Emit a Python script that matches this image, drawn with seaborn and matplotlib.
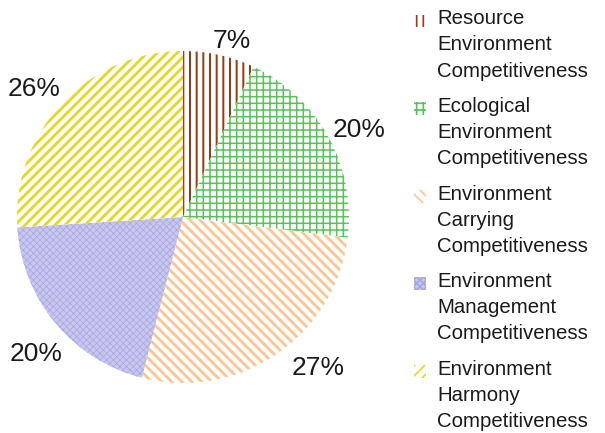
import matplotlib
matplotlib.use("Agg")
import numpy as np
import matplotlib.pyplot as plt
import matplotlib.patches as mpatches
from matplotlib.legend_handler import HandlerPatch
import seaborn as sns

# data
categories = ["Resource\nEnvironment\nCompetitiveness",
              "Ecological\nEnvironment\nCompetitiveness",
              "Environment\nCarrying\nCompetitiveness",
              "Environment\nManagement\nCompetitiveness",
              "Environment\nHarmony\nCompetitiveness"]
shares = [7, 20, 27, 20, 26]

# styling per wedge
hatch_colors = ["#9c3a12", "#55c455", "#fdc690", "#a6a6de", "#e6d81e"]
face_colors = ["white", "white", "white", "#c6c6ef", "white"]
hatches = ["|||", "+++", "\\\\\\\\", "xxxxxx", "////"]
hatch_widths = [1.2, 0.9, 1.7, 0.4, 1.7]
# where the percentage labels sit (radius, angular nudge in degrees)
label_radius = [1.10, 1.18, 1.22, 1.21, 1.18]
label_nudge = [-3, -2.5, 7.5, 3.5, 2.5]

sns.set_theme(style="white")
plt.rcParams["font.family"] = ["Liberation Sans", "DejaVu Sans"]


class TopAlignedHandler(HandlerPatch):
    # put the small swatch next to the first line of a multi-line label
    def create_artists(self, legend, orig_handle, xdescent, ydescent,
                       width, height, fontsize, trans):
        p = mpatches.Rectangle((-xdescent, -ydescent + 1.19 * fontsize),
                               width, height)
        self.update_prop(p, orig_handle, legend)
        p.set_transform(trans)
        return [p]


DPI = 120
fig = plt.figure(figsize=(605 / DPI, 433 / DPI), dpi=DPI)
ax = fig.add_axes([0.0281, 0.1155, 0.5488, 0.7667])

wedges, _ = ax.pie(
    shares,
    startangle=90,
    counterclock=False,
    colors=face_colors,
    labeldistance=None,
    wedgeprops=dict(linewidth=0, clip_on=False),
)
for w, hc, h, hw in zip(wedges, hatch_colors, hatches, hatch_widths):
    w.set_edgecolor(hc)
    w.set_hatch(h)
    if hasattr(w, "set_hatch_linewidth"):
        w.set_hatch_linewidth(hw)

for w, s, r, nd in zip(wedges, shares, label_radius, label_nudge):
    ang = np.deg2rad((w.theta1 + w.theta2) / 2 + nd)
    ax.text(r * np.cos(ang), r * np.sin(ang), f"{s}%",
            ha="center", va="center", fontsize=15.8, color="#1a1a1a")

ax.set_xlim(-1, 1)
ax.set_ylim(-1, 1)
ax.set_aspect("equal")
ax.axis("off")

leg = fig.legend(
    wedges, categories,
    loc="upper left",
    bbox_to_anchor=(0.6675, 1.002),
    frameon=False,
    fontsize=12.25,
    handlelength=0.59,
    handleheight=0.59,
    handletextpad=0.54,
    labelspacing=0.8,
    borderpad=0,
    handler_map={mpatches.Wedge: TopAlignedHandler()},
)
for t in leg.get_texts():
    t.set_color("#1a1a1a")
    t.set_linespacing(1.476)

fig.savefig("out.png", dpi=DPI)
